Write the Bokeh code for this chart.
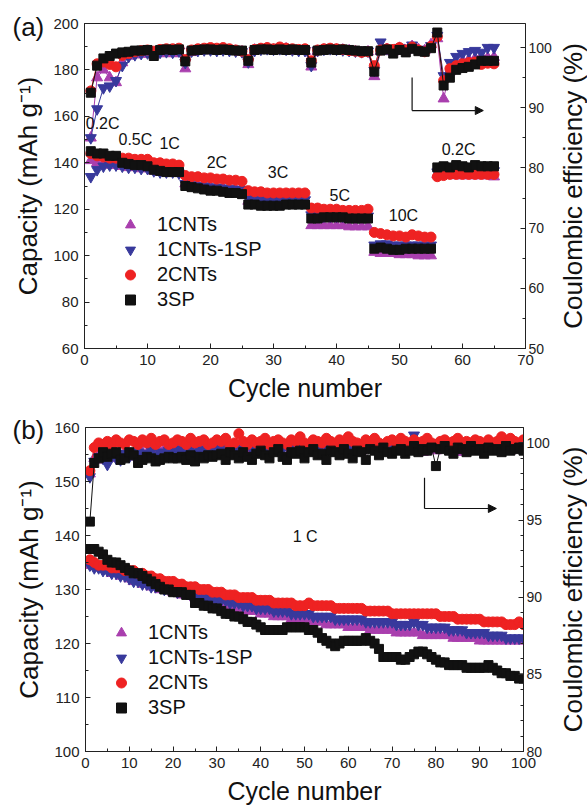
import math
from bokeh.plotting import figure
from bokeh.models import (Range1d, LinearAxis, SingleIntervalTicker, FixedTicker, Legend,
                          LegendItem, Label, Arrow, NormalHead)
from bokeh.layouts import column, row
from bokeh.embed import file_html
from bokeh.resources import INLINE

FONT = "Liberation Sans"

SERIES = ["1CNTs", "1CNTs-1SP", "2CNTs", "3SP"]
COLORS = ["#A93FAE", "#38399C", "#EE2222", "#111111"]
MARKERS = ["triangle", "inverted_triangle", "circle", "square"]
SIZES = [11, 11, 10, 9]

# ---------------- panel (a): rate capability ----------------
cycles_a = list(range(1, 66))

cap_a_1cnts = [141, 140, 139.5, 139, 139, 138.5, 138, 138, 137.5, 137.5,
               136.5, 136, 136, 135.5, 135.5, 131, 130.5, 130, 130, 129.5,
               129, 129, 128.5, 128.5, 128, 123.5, 123, 123, 123, 123,
               123, 123, 123, 123, 123, 113, 113, 113, 113, 113,
               113, 112.5, 112.5, 112.5, 112.5, 101.5, 101, 101, 101, 100.5,
               100.5, 100.5, 100, 100, 100, 135, 135, 135, 134.5, 134.5,
               134.5, 134.5, 134.5, 134.5, 134]
cap_a_1cnts1sp = [134, 137, 138.5, 139, 139, 138.5, 138, 138, 137.5, 137.5,
                  136.5, 136, 136, 136, 135.5, 131, 130.5, 130, 130, 129.5,
                  129.5, 129, 129, 128.5, 128.5, 124.5, 124, 124, 124, 124,
                  124, 124, 124, 124, 124, 117.5, 117.5, 117, 117, 117,
                  117, 117, 117, 117, 117, 104.5, 105, 105, 104.5, 104.5,
                  104.5, 104.5, 104.5, 104.5, 104.5, 136, 136.5, 136.5, 136.5, 136.5,
                  136.5, 136.5, 136.5, 136.5, 136.5]
cap_a_2cnts = [144, 143, 142.5, 142, 142, 142, 142, 141.5, 141.5, 141.5,
               140, 140, 139.5, 139.5, 139, 134.5, 134, 134, 133.5, 133.5,
               133, 133, 132.5, 132.5, 132, 128, 127.5, 127.5, 127, 127,
               127, 127, 127, 127, 127, 120.5, 120.5, 120, 120, 120,
               119.5, 119.5, 119.5, 119.5, 120, 110, 109.5, 109, 108.5, 108.5,
               108, 109, 108.5, 108, 108, 134, 134.5, 135, 135, 135,
               135, 135, 135, 135, 135]
cap_a_3sp = [145, 144, 144, 143, 143, 140, 139.5, 139, 139, 138.5,
             137, 136.5, 136, 136, 136, 130, 129.5, 129, 128.5, 128,
             128, 127.5, 127, 127, 126.5, 122, 122, 121.5, 121.5, 121.5,
             121.5, 122, 122, 122, 122, 116, 116, 116.5, 116.5, 116.5,
             116.5, 116, 116, 116, 116, 103, 103.5, 103, 102.5, 102.5,
             103, 103, 103, 103, 103, 138, 138.5, 138, 139, 138.5,
             138, 139, 138.5, 138.5, 138.5]

ce_a_1cnts = [85.0, 95.0, 96.3, 95.0, 94.2, 97.5, 98.6, 98.8, 98.9, 99.0,
              98.8, 99.0, 99.1, 99.0, 99.1, 96.5, 99.2, 99.4, 99.5, 99.6,
              99.5, 99.6, 99.5, 99.4, 99.3, 97.2, 99.6, 99.7, 99.8, 99.6,
              99.7, 99.8, 99.5, 99.4, 99.4, 96.8, 99.4, 99.6, 99.7, 99.6,
              99.6, 99.5, 99.3, 99.2, 99.3, 95.2, 99.4, 99.7, 99.3, 99.9,
              99.5, 100.2, 99.7, 99.5, 100.5, 101.5, 91.5, 96.0, 97.0, 97.8,
              98.0, 98.2, 98.5, 98.3, 98.4]
ce_a_1cnts1sp = [85.0, 89.8, 93.3, 93.6, 94.5, 97.0, 98.5, 98.8, 99.0, 99.1,
                 99.0, 99.2, 99.3, 99.2, 99.4, 97.5, 99.4, 99.5, 99.6, 99.6,
                 99.5, 99.6, 99.5, 99.4, 99.3, 97.6, 99.5, 99.7, 99.8, 99.7,
                 99.8, 99.7, 99.6, 99.5, 99.5, 97.0, 99.5, 99.7, 99.8, 99.7,
                 99.6, 99.5, 99.4, 99.3, 99.4, 96.2, 100.9, 99.8, 99.5, 100.0,
                 99.6, 100.4, 99.7, 99.6, 100.3, 102.0, 95.3, 97.5, 98.5, 99.0,
                 99.3, 99.5, 99.2, 100.0, 100.0]
ce_a_2cnts = [92.8, 97.3, 97.6, 97.2, 96.8, 98.7, 99.0, 99.3, 99.5, 99.6,
              99.4, 99.7, 99.8, 99.8, 99.9, 98.0, 99.6, 99.8, 99.9, 100.0,
              99.9, 100.0, 99.8, 99.6, 99.4, 98.0, 99.7, 99.9, 100.0, 99.8,
              100.1, 99.9, 99.8, 99.7, 99.8, 97.8, 99.6, 99.8, 99.9, 99.8,
              99.7, 99.5, 99.4, 99.2, 99.3, 97.0, 99.6, 99.8, 99.7, 100.0,
              99.6, 100.1, 99.6, 99.3, 100.2, 101.8, 94.5, 96.5, 97.0, 97.3,
              97.5, 97.6, 97.2, 97.4, 97.3]
ce_a_3sp = [92.5, 97.0, 98.2, 98.6, 99.0, 99.2, 99.3, 99.5, 99.5, 99.6,
            98.6, 99.6, 99.7, 99.6, 99.7, 97.7, 99.5, 99.6, 99.7, 99.7,
            99.6, 99.7, 99.6, 99.5, 99.5, 97.8, 99.6, 99.7, 99.7, 99.6,
            99.7, 99.6, 99.7, 99.6, 99.6, 97.5, 99.5, 99.6, 99.7, 99.6,
            99.7, 99.6, 99.5, 99.4, 99.4, 96.0, 99.5, 99.7, 99.0, 99.6,
            99.2, 99.8, 99.4, 99.3, 99.9, 102.5, 93.7, 95.0, 96.3, 96.6,
            96.8, 97.2, 97.8, 97.8, 97.8]

rate_labels_a = ["0.2C", "0.5C", "1C", "2C", "3C", "5C", "10C", "0.2C"]
rate_x_a = [0.2, 5.4, 11.9, 19.4, 29.1, 38.9, 48.3, 56.7]
rate_y_a = [156.8, 149.9, 148.2, 140.0, 135.7, 125.8, 117.1, 145.6]

# ---------------- panel (b): cycling at 1 C ----------------
cycles_b = list(range(1, 101))

cap_b_1cnts = [134.5, 134.5, 134, 134, 133.5, 133, 133, 132.5, 132.5, 132,
               131.5, 131.5, 131, 131, 130.5, 130.5, 130, 130, 130, 129.5,
               129.5, 129, 129, 129, 128.5, 128.5, 128, 128, 127.5, 127.5,
               127.5, 127, 127, 126.5, 126.5, 126.5, 126, 126, 126, 125.5,
               125.5, 125.5, 125, 125, 125, 125, 124.5, 124.5, 124.5, 124.5,
               124, 124, 124, 124, 123.5, 123.5, 123.5, 123.5, 123.5, 123,
               123, 123, 123, 123, 122.5, 122.5, 122.5, 122.5, 122.5, 122.5,
               122, 122, 122, 122, 122, 122, 121.5, 121.5, 121.5, 121.5,
               121.5, 121.5, 121.5, 121, 121, 121, 121, 121, 121, 120.5,
               120.5, 120.5, 120.5, 120.5, 120.5, 120.5, 120.5, 120.5, 120.5, 120.5]
cap_b_1cnts1sp = [134.5, 134, 134, 133.5, 133.5, 133, 133, 132.5, 132.5, 132,
                  131.5, 131.5, 131, 131, 130.5, 130.5, 130.5, 130, 130, 130,
                  129.5, 129.5, 129.5, 129, 129, 129, 128.5, 128.5, 128.5, 128,
                  128, 128, 127.5, 127.5, 127.5, 127, 127, 127, 126.5, 126.5,
                  126.5, 126.5, 126, 126, 126, 126, 125.5, 125.5, 125.5, 125.5,
                  125.5, 125, 125, 125, 125, 125, 124.5, 124.5, 124.5, 124.5,
                  124.5, 124.5, 124.5, 124, 124, 124, 124, 124, 124, 124,
                  123.5, 123.5, 123.5, 123.5, 124, 123.5, 123.5, 123, 123, 123,
                  123, 123, 122.5, 122.5, 122.5, 122.5, 122, 122, 122, 122,
                  122, 121.5, 121.5, 121.5, 121.5, 121, 121, 121, 121, 121]
cap_b_2cnts = [135.5, 135, 134.5, 134.5, 134.5, 134, 134, 134, 133.5, 133.5,
               133.5, 133, 133, 132.5, 132.5, 132, 132, 131.5, 131.5, 131.5,
               131, 131, 130.5, 130.5, 130.5, 130, 130, 130, 129.5, 129.5,
               129.5, 129, 129, 129, 128.5, 128.5, 128.5, 128.5, 128, 128,
               128, 128, 127.5, 127.5, 127.5, 127.5, 127.5, 127, 127, 127,
               127.5, 127, 127, 127, 127, 127, 126.5, 126.5, 126.5, 126.5,
               126.5, 126.5, 126.5, 126, 126, 126, 126, 126, 126, 125.5,
               125.5, 125.5, 125.5, 125.5, 125.5, 125.5, 125.5, 125.5, 125.5, 125.5,
               125, 125, 125, 125, 124.5, 124.5, 124.5, 124.5, 124.5, 124.5,
               124, 124, 124, 124, 124, 123.5, 123.5, 123.5, 124, 123.5]
cap_b_3sp = [137.5, 137.5, 137, 136.5, 135.5, 135, 135, 134.5, 134, 133.5,
             133, 133, 132.5, 132, 131.5, 131, 130.5, 130, 130, 129.5,
             129.5, 129.5, 129, 129, 127.5, 127.5, 127, 127, 126.5, 126.5,
             126, 125.5, 125.5, 125, 125, 124.5, 124, 124, 123.5, 123,
             122.5, 122.5, 122.5, 122.5, 122.5, 123, 123, 123, 123, 123,
             122.5, 122.5, 122, 121, 120.5, 120, 119.5, 120, 120.5, 120.5,
             120.5, 120.5, 120.5, 121, 120.5, 120, 119, 117.5, 117.5, 117.5,
             117.5, 117, 117, 117.5, 118, 118.5, 118.5, 118, 117.5, 117,
             116.5, 116.5, 116, 116, 116, 116, 115.5, 115.5, 115.5, 115.5,
             115.5, 116, 115.5, 115, 114.5, 114.5, 114, 114, 113.5, 113.5]

ce_b_1cnts = [98.0, 99.0, 99.2, 98.9, 99.1, 99.3, 99.0, 99.2, 99.4, 99.1,
              99.3, 99.2, 99.4, 99.3, 99.5, 99.3, 99.4, 99.6, 99.4, 99.5,
              99.6, 99.5, 99.4, 99.6, 99.5, 99.7, 99.5, 99.6, 99.8, 99.6,
              99.7, 99.5, 99.6, 99.8, 99.6, 99.7, 99.5, 99.8, 99.6, 99.7,
              99.9, 99.6, 99.7, 99.5, 99.8, 99.7, 99.6, 99.8, 99.7, 99.5,
              99.8, 99.6, 99.7, 99.9, 99.7, 99.6, 99.8, 99.5, 99.7, 99.8,
              99.6, 99.7, 99.5, 99.8, 99.6, 99.7, 99.9, 99.6, 99.5, 99.7,
              99.8, 99.6, 99.7, 99.5, 99.8, 99.6, 99.4, 99.7, 99.6, 99.5,
              99.8, 99.6, 99.7, 99.9, 99.6, 99.4, 99.7, 99.6, 99.8, 99.5,
              99.7, 99.6, 99.5, 99.8, 99.7, 99.6, 99.5, 99.7, 99.8, 99.6]
ce_b_1cnts1sp = [97.8, 98.8, 99.1, 99.0, 98.6, 99.2, 99.0, 98.9, 99.3, 99.1,
                 99.2, 99.4, 99.1, 99.3, 99.5, 99.2, 99.4, 99.3, 99.5, 99.4,
                 99.6, 99.4, 99.5, 99.7, 99.4, 99.6, 99.5, 99.8, 99.6, 99.5,
                 99.7, 99.6, 99.5, 99.8, 99.6, 99.7, 99.9, 99.6, 99.7, 99.8,
                 99.6, 99.9, 99.7, 99.8, 99.6, 100.0, 99.7, 99.8, 99.9, 99.7,
                 99.8, 99.9, 99.7, 100.0, 99.8, 99.9, 99.7, 99.8, 100.0, 99.9,
                 99.7, 99.8, 99.9, 100.0, 99.8, 99.9, 99.7, 99.8, 100.0, 99.9,
                 99.8, 99.9, 100.0, 99.8, 100.5, 99.9, 99.8, 99.7, 99.9, 100.0,
                 99.8, 99.9, 99.7, 99.8, 100.0, 99.9, 99.8, 99.9, 99.7, 99.9,
                 100.0, 99.8, 99.9, 99.7, 99.9, 99.8, 100.0, 99.9, 99.8, 99.9]
ce_b_2cnts = [98.2, 99.7, 100.0, 99.9, 100.1, 99.8, 100.2, 100.0, 99.9, 100.2,
              100.1, 99.9, 100.2, 100.0, 100.3, 99.9, 100.1, 100.2, 99.9, 100.0,
              100.2, 100.1, 99.9, 100.3, 100.0, 100.1, 100.2, 99.9, 100.0, 100.2,
              100.1, 100.3, 99.8, 100.0, 100.6, 100.1, 99.9, 100.2, 100.0, 100.1,
              100.3, 99.9, 100.1, 100.2, 100.0, 99.9, 100.2, 100.1, 100.4, 100.0,
              99.9, 100.2, 100.1, 100.0, 100.3, 100.1, 99.9, 100.2, 100.0, 100.4,
              100.1, 100.0, 99.9, 100.2, 100.1, 100.3, 100.0, 99.9, 100.1, 100.2,
              100.0, 100.3, 100.1, 99.9, 100.2, 100.0, 100.1, 100.3, 100.0, 99.8,
              100.1, 100.2, 100.0, 100.1, 100.3, 99.9, 100.1, 100.0, 100.2, 100.1,
              99.9, 100.2, 100.0, 100.1, 100.4, 100.0, 100.3, 100.1, 100.0, 100.2]
ce_b_3sp = [94.9, 98.7, 99.0, 99.4, 99.1, 99.3, 99.4, 98.9, 99.0, 99.4,
            99.2, 98.7, 98.9, 99.1, 99.0, 98.8, 98.9, 99.0, 99.1, 99.0,
            99.0, 99.1, 98.9, 99.2, 98.8, 99.1, 99.0, 99.2, 99.1, 99.2,
            99.3, 98.9, 99.4, 99.2, 99.0, 99.4, 99.1, 98.9, 99.3, 99.5,
            99.2, 99.0, 99.4, 99.6, 99.1, 98.9, 99.4, 99.3, 99.5, 99.0,
            99.4, 99.6, 99.2, 99.3, 98.9, 99.5, 99.4, 99.2, 99.6, 99.3,
            99.0, 99.5, 99.4, 98.9, 99.6, 99.5, 99.2, 99.7, 99.4, 99.3,
            99.5, 99.6, 99.3, 99.5, 99.8, 99.4, 99.6, 99.5, 99.7, 98.5,
            99.6, 99.8, 99.5, 99.3, 99.7, 99.6, 99.4, 99.8, 99.5, 99.6,
            99.3, 99.7, 99.5, 99.6, 99.4, 99.8, 99.5, 99.6, 99.7, 99.5]

rate_labels_b = ["1 C"]
rate_x_b = [47.3]
rate_y_b = [139.8]

MAIN_W = 554
SIDE_W = 587 - MAIN_W


def style_axis(ax, label_size):
    ax.axis_label_text_font = FONT
    ax.axis_label_text_font_size = label_size
    ax.axis_label_text_font_style = "normal"
    ax.axis_label_text_color = "#111111"
    ax.major_label_text_font = FONT
    ax.major_label_text_font_size = "15px"
    ax.major_label_text_color = "#222222"
    ax.axis_line_color = "#222222"
    ax.major_tick_line_color = "#222222"
    ax.minor_tick_line_color = "#222222"
    ax.major_tick_in = 5
    ax.major_tick_out = 0
    ax.minor_tick_in = 3
    ax.minor_tick_out = 0
    ax.major_label_standoff = 6
    ax.axis_label_standoff = 6


def make_panel(cycles, caps, ces, xr, yr, yr2, xint, yint, y2int, y2minor,
               borders, height, tag, tag_standoff, rate_labels, rate_x, rate_y,
               legend_loc, arrow_pts):
    left, right, top, bottom = borders
    p = figure(width=MAIN_W, height=height, output_backend="svg", toolbar_location=None,
               x_range=Range1d(*xr), y_range=Range1d(*yr),
               min_border_left=left, min_border_right=right,
               min_border_top=top, min_border_bottom=bottom)
    p.extra_y_ranges = {"ce": Range1d(*yr2)}
    p.xgrid.visible = False
    p.ygrid.visible = False
    p.outline_line_color = "#222222"
    p.outline_line_width = 1
    p.background_fill_color = "white"
    p.border_fill_color = "white"

    # panel tag "(a)" / "(b)" drawn as the title, pulled down beside the frame top
    p.title.text = tag
    p.title.align = "left"
    p.title.offset = -(left - 12)
    p.title.standoff = tag_standoff
    p.title.text_font = FONT
    p.title.text_font_size = "26px"
    p.title.text_font_style = "normal"
    p.title.text_color = "#111111"

    p.xaxis.ticker = SingleIntervalTicker(interval=xint, num_minor_ticks=2)
    p.yaxis.ticker = SingleIntervalTicker(interval=yint, num_minor_ticks=2)
    p.xaxis.axis_label = "Cycle number"
    p.yaxis.axis_label = "Capacity (mAh g\u207b\u00b9)"
    rax = LinearAxis(y_range_name="ce",
                     ticker=SingleIntervalTicker(interval=y2int, num_minor_ticks=y2minor))
    p.add_layout(rax, "right")
    style_axis(p.xaxis[0], "25px")
    style_axis(p.yaxis[0], "26px")
    style_axis(rax, "26px")
    rax.major_label_text_font_size = "14px"
    rax.major_label_standoff = 3
    p.yaxis[0].axis_label_standoff = 7

    items = []
    for name, col, mk, sz, cap, ce in zip(SERIES, COLORS, MARKERS, SIZES, caps, ces):
        p.line(cycles, ce, y_range_name="ce", line_color=col, line_width=1)
        p.scatter(cycles, ce, y_range_name="ce", marker=mk, size=sz,
                  fill_color=col, line_color=col)
        r = p.scatter(cycles, cap, marker=mk, size=sz, fill_color=col, line_color=col)
        items.append(LegendItem(label=name, renderers=[r]))

    leg = Legend(items=items, location=legend_loc, orientation="vertical",
                 glyph_width=28, glyph_height=25, label_height=25, spacing=0,
                 padding=0, margin=0, label_standoff=13,
                 label_text_font=FONT, label_text_font_size="20px",
                 label_text_color="#111111",
                 border_line_alpha=0, background_fill_alpha=0)
    p.add_layout(leg, "center")

    for t, x, y in zip(rate_labels, rate_x, rate_y):
        p.add_layout(Label(x=x, y=y, text=t, text_font=FONT, text_font_size="16px",
                           text_color="#111111", text_baseline="alphabetic"))

    (x0, ytop, ybot, x1) = arrow_pts
    p.add_layout(Arrow(x_start=x0, y_start=ytop, x_end=x0, y_end=ybot, end=None,
                       line_color="#111111", line_width=1.2))
    p.add_layout(Arrow(x_start=x0, y_start=ybot, x_end=x1, y_end=ybot,
                       end=NormalHead(size=8, fill_color="#111111", line_color="#111111"),
                       line_color="#111111", line_width=1.2))
    return p


def make_side_label(height, top, bottom):
    # narrow strip whose left-axis label is the right-hand axis title (reads bottom-to-top)
    q = figure(width=SIDE_W, height=height, output_backend="svg", toolbar_location=None,
               x_range=Range1d(0, 1), y_range=Range1d(0, 1),
               min_border_left=SIDE_W - 1, min_border_right=0,
               min_border_top=top, min_border_bottom=bottom)
    q.outline_line_color = None
    q.xaxis.visible = False
    q.xgrid.visible = False
    q.ygrid.visible = False
    q.border_fill_color = "white"
    q.background_fill_color = "white"
    ax = q.yaxis[0]
    ax.ticker = FixedTicker(ticks=[])
    ax.axis_label = "Coulombic efficiency (%)"
    ax.axis_label_text_font = FONT
    ax.axis_label_text_font_size = "26px"
    ax.axis_label_text_font_style = "normal"
    ax.axis_label_text_color = "#111111"
    ax.axis_label_standoff = 0
    ax.axis_line_color = None
    ax.major_tick_line_color = None
    ax.minor_tick_line_color = None
    ax.major_label_text_font_size = "0px"
    return q


pa = make_panel(cycles_a, [cap_a_1cnts, cap_a_1cnts1sp, cap_a_2cnts, cap_a_3sp],
                [ce_a_1cnts, ce_a_1cnts1sp, ce_a_2cnts, ce_a_3sp],
                (0, 70), (60, 200), (50, 104), 10, 20, 10, 2,
                (84, MAIN_W - 527, 23, 57), 405, "(a)", -36,
                rate_labels_a, rate_x_a, rate_y_a, (32, 36),
                (52, 176.7, 162.5, 63.3))
qa = make_side_label(405, 23, 57)

pb = make_panel(cycles_b, [cap_b_1cnts, cap_b_1cnts1sp, cap_b_2cnts, cap_b_3sp],
                [ce_b_1cnts, ce_b_1cnts1sp, ce_b_2cnts, ce_b_3sp],
                (0, 100), (100, 160), (80, 101), 10, 10, 5, 5,
                (85, MAIN_W - 523, 22, 59), 405, "(b)", -34,
                rate_labels_b, rate_x_b, rate_y_b, (22, 31),
                (77.4, 150.7, 145.0, 93.8))
qb = make_side_label(405, 22, 59)

layout = column(row(pa, qa, spacing=0), row(pb, qb, spacing=0), spacing=0)
open("out.html", "w").write(file_html(layout, INLINE))
